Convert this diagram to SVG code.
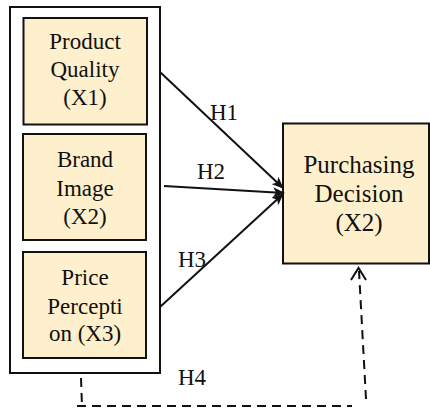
<svg xmlns="http://www.w3.org/2000/svg" width="430" height="410" viewBox="0 0 430 410" font-family="Liberation Serif, Tinos, Times New Roman, Times, Noto Serif, FreeSerif, DejaVu Serif, serif">
  <style>
    .box { fill: #FEF0CC; stroke: #111; stroke-width: 2; }
    .frame { fill: #fff; stroke: #111; stroke-width: 2; }
    text { fill: #111; }
    .t { text-anchor: middle; }
    .s { font-size: 23px; }
    .l { font-size: 25px; }
    .h { font-size: 23px; }
    .edge { fill: none; stroke: #111; stroke-width: 2; }
    .dash { fill: none; stroke: #111; stroke-width: 2; stroke-dasharray: 9 6; }
  </style>
  <defs>
    <marker id="solid" viewBox="0 0 12 10" refX="11" refY="5" markerWidth="12" markerHeight="10" markerUnits="userSpaceOnUse" orient="auto">
      <path d="M0 0 L12 5 L0 10 L3 5 Z" fill="#111"/>
    </marker>
  </defs>

  <rect width="430" height="410" fill="#fff"/>

  <!-- grouping frame around the independent variables -->
  <g id="independents">
    <rect class="frame" x="10" y="7" width="150" height="366"/>
  </g>

  <g id="x1">
    <rect class="box" x="23.5" y="18" width="123.5" height="106.5"/>
    <text class="t s" x="85" y="49">Product</text>
    <text class="t s" x="85" y="77">Quality</text>
    <text class="t s" x="85" y="105">(X1)</text>
  </g>

  <g id="x2">
    <rect class="box" x="23" y="134" width="123" height="106"/>
    <text class="t s" x="85" y="167">Brand</text>
    <text class="t s" x="85" y="196">Image</text>
    <text class="t s" x="85" y="224">(X2)</text>
  </g>

  <g id="x3">
    <rect class="box" x="23" y="252" width="123" height="106"/>
    <text class="t s" x="85" y="285">Price</text>
    <text class="t s" x="85" y="314">Percepti</text>
    <text class="t s" x="85" y="341">on (X3)</text>
  </g>

  <g id="y">
    <rect class="box" x="283" y="123.5" width="146" height="140" stroke-width="2.5"/>
    <text class="t l" x="359" y="173">Purchasing</text>
    <text class="t l" x="359" y="202">Decision</text>
    <text class="t l" x="359" y="231">(X2)</text>
  </g>

  <g id="connectors">
    <line class="edge" x1="160" y1="72" x2="283" y2="188" marker-end="url(#solid)"/>
    <line class="edge" x1="164" y1="186" x2="284" y2="193" marker-end="url(#solid)"/>
    <line class="edge" x1="160" y1="307" x2="283" y2="194" marker-end="url(#solid)"/>
    <text class="h" x="210" y="120">H1</text>
    <text class="h" x="197" y="179">H2</text>
    <text class="h" x="178" y="267">H3</text>

    <line class="dash" x1="81" y1="378" x2="82" y2="406"/>
    <line class="dash" x1="77" y1="406" x2="352" y2="406"/>
    <line class="dash" x1="366" y1="399" x2="359" y2="271"/>
    <polyline class="edge" points="351,280 358.5,268 366,280"/>
    <text class="h" x="178" y="385">H4</text>
  </g>
</svg>
